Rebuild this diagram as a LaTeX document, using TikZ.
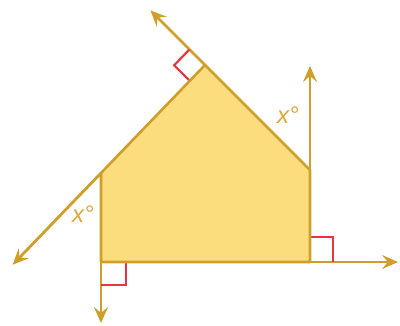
\documentclass[tikz,border=0pt]{standalone}
\usepackage{fontspec}
\setmainfont{Liberation Sans}
\usetikzlibrary{arrows.meta,calc}
\definecolor{shapefill}{HTML}{FCDD7E}
\definecolor{linegold}{HTML}{D29E2A}
\definecolor{markred}{HTML}{EC3440}
\definecolor{labelgold}{HTML}{DCA838}

\begin{document}
\begin{tikzpicture}[
  x=1pt, y=-1pt,
  arr/.style={-{Stealth[length=16pt, width=14pt, inset=6pt]}, line width=2.8pt, draw=linegold},
  edge/.style={draw=linegold, line width=2.6pt, line join=round},
  rmark/.style={draw=markred, line width=2.2pt},
  lbl/.style={text=labelgold, font=\fontsize{24}{24}\selectfont\itshape, inner sep=0pt},
]
  \useasboundingbox (0,0) rectangle (400,325);
  % corners of the pentagon
  \coordinate (A) at (101,262);
  \coordinate (B) at (310,262);
  \coordinate (C) at (310,170);
  \coordinate (D) at (205,65);
  \coordinate (E) at (101,173);
  % ends of the extended sides
  \coordinate (tipL) at ($(D)!1.85!(E)$);
  \coordinate (tipT) at ($(C)!1.52!(D)$);
  \coordinate (tipC) at (310,66);
  \coordinate (tipB) at (398,262);
  \coordinate (tipA) at (101,323);

  \fill[shapefill] (A) -- (B) -- (C) -- (D) -- (E) -- cycle;

  \draw[arr] (E) -- (tipL);
  \draw[arr] (D) -- (tipT);
  \draw[arr] (C) -- (tipC);
  \draw[arr] (B) -- (tipB);
  \draw[arr] (A) -- (tipA);

  % right angles
  \coordinate (p) at ($(D)!22pt!(tipT)$);
  \coordinate (q) at ($(D)!22pt!(E)$);
  \draw[rmark] (p) -- ($(p)+(q)-(D)$) -- (q);
  \draw[rmark] (B) ++(0,-25) -- ++(23,0) -- ++(0,25);
  \draw[rmark] (A) ++(25,0) -- ++(0,23) -- ++(-25,0);

  \draw[edge] (A) -- (B) -- (C) -- (D) -- (E) -- cycle;

  \node[lbl] (angL) at (83,214) {x°};
  \node[lbl] (angR) at (288,115) {x°};
\end{tikzpicture}
\end{document}
